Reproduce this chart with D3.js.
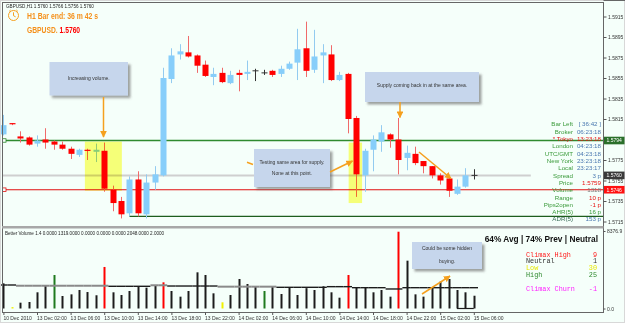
<!DOCTYPE html>
<html><head><meta charset="utf-8">
<script src="https://cdn.jsdelivr.net/npm/d3@7"></script>
<style>
html,body{margin:0;padding:0;background:#f5fffa;overflow:hidden}
svg{display:block}
text{font-family:"Liberation Sans",Arial,sans-serif}
</style></head><body>
<svg id="c" width="625" height="323"></svg>
<script>
// ---------------- DATA ----------------
const opens  = [1.5800,1.5811,1.5798,1.5797,1.5791,1.5795,1.5793,1.5790,1.5786,1.5780,1.5785,1.5783,1.5784,1.5746,1.5735,1.5723,1.5756,1.5722,1.5753,1.5760,1.5854,1.5878,1.5880,1.5877,1.5868,1.5856,1.5860,1.5850,1.5860,1.5859,1.5862,1.5860,1.5862,1.5859,1.5864,1.5870,1.5884,1.5863,1.5877,1.5878,1.5853,1.5859,1.5816,1.5760,1.5785,1.5793,1.5800,1.5795,1.5777,1.5781,1.5774,1.5769,1.5760,1.5757,1.5742,1.5749,1.5760];
const highs  = [1.5819,1.5811,1.5803,1.5798,1.5799,1.5806,1.5794,1.5793,1.5788,1.5786,1.5786,1.5791,1.5792,1.5750,1.5739,1.5759,1.5764,1.5761,1.5769,1.5865,1.5884,1.5888,1.5896,1.5878,1.5872,1.5865,1.5865,1.5862,1.5863,1.5872,1.5864,1.5863,1.5863,1.5867,1.5871,1.5903,1.5910,1.5902,1.5888,1.5887,1.5861,1.5860,1.5818,1.5786,1.5799,1.5809,1.5801,1.5816,1.5789,1.5788,1.5774,1.5769,1.5762,1.5759,1.5756,1.5767,1.5766];
const lows   = [1.5799,1.5809,1.5792,1.5789,1.5788,1.5786,1.5785,1.5785,1.5776,1.5778,1.5775,1.5773,1.5744,1.5725,1.5718,1.5720,1.5720,1.5718,1.5746,1.5759,1.5850,1.5873,1.5875,1.5860,1.5856,1.5848,1.5850,1.5849,1.5842,1.5853,1.5852,1.5858,1.5856,1.5856,1.5863,1.5853,1.5856,1.5860,1.5850,1.5852,1.5852,1.5801,1.5739,1.5744,1.5764,1.5783,1.5787,1.5761,1.5765,1.5770,1.5762,1.5757,1.5751,1.5739,1.5741,1.5748,1.5756];
const closes = [1.5809,1.5810,1.5796,1.5790,1.5794,1.5792,1.5790,1.5786,1.5781,1.5785,1.5784,1.5785,1.5747,1.5733,1.5722,1.5756,1.5723,1.5753,1.5761,1.5855,1.5877,1.5881,1.5876,1.5867,1.5857,1.5859,1.5851,1.5858,1.5858,1.5861,1.5862,1.5860,1.5858,1.5864,1.5869,1.5883,1.5862,1.5876,1.5880,1.5853,1.5858,1.5815,1.5761,1.5784,1.5795,1.5802,1.5795,1.5775,1.5782,1.5772,1.5769,1.5760,1.5755,1.5745,1.5749,1.5760,1.5760];

const volumes = [2720,150,630,700,1750,2540,3620,1350,1530,2000,1780,1430,4490,1750,1460,1890,2430,2250,2540,2830,1890,1280,1890,3910,3620,1640,670,1460,3190,2650,2360,1890,2360,1570,2290,1460,2200,2000,2400,1750,1170,3620,2250,2250,1750,2000,1280,8300,5170,1530,1280,2250,2900,3190,2000,1750,1380];
const volumeTypes = ["n","low","n","n","n","n","high","n","n","n","n","n","climax","n","n","n","n","n","n","climax","n","n","n","n","n","n","low","n","n","n","n","high","n","n","n","n","n","n","n","n","n","climax","n","n","n","n","n","climax","n","n","n","n","n","n","n","n","n"];
const volumeAvg = [2540,2540,2460,2460,2460,2460,2460,2460,2460,2460,2460,2460,2460,2400,2400,2400,2400,2400,2510,2510,2430,2430,2430,2430,2430,2430,2360,2360,2360,2360,2360,2360,2360,2290,2290,2290,2290,2290,2290,2360,2360,2360,2250,2250,2250,2250,2110,2110,2250,2250,2250,2250,2250,2250,2250,2250,2250];
const volumeAvgTrend = ["a","a","b","b","b","b","b","b","b","b","b","b","b","a","a","a","a","a","b","b","a","a","a","a","a","a","b","b","b","b","b","b","b","a","a","a","a","a","a","a","a","a","a","a","a","a","a","a","a","a","a","a","a","a","a","a","a"];

const timeTickIndex  = [0,4,8,12,16,20,24,28,32,36,40,44,48,52,56];
const timeTickLabels = ["10 Dec 2010","13 Dec 02:00","13 Dec 06:00","13 Dec 10:00","13 Dec 14:00","13 Dec 18:00","13 Dec 22:00","14 Dec 02:00","14 Dec 06:00","14 Dec 10:00","14 Dec 14:00","14 Dec 18:00","14 Dec 22:00","15 Dec 02:00","15 Dec 06:00"];
const priceTicks = [1.5915,1.5895,1.5875,1.5855,1.5835,1.5815,1.5775,1.5755,1.5735,1.5715];
const volumeTicks = [0, 8376.9];

const infoLabels = ["Bar Left","Broker","* Tokyo","London","UTC/GMT","New York","Local","Spread","Price","Volume","Range","Pips2open","AHR(5)","ADR(5)"];
const infoValues = ["[ 36:42 ]","06:23:18","13:23:18","04:23:18","04:23:18","23:23:18","23:23:17","3 p","1.5759","1318","10 p","-1 p","16 p","153 p"];

const legendLabels = ["Climax High","Neutral","Low","High","","Climax Churn"];
const legendValues = ["9","1","30","25","","-1"];

// ---------------- DRAW ----------------
const svg = d3.select("#c");
const W = 625, H = 323;
svg.append("rect").attr("width",W).attr("height",H).attr("fill","#f5fffa");

const defs = svg.append("defs");
const f = defs.append("filter").attr("id","sh").attr("x","-20%").attr("y","-20%").attr("width","140%").attr("height","150%");
f.append("feDropShadow").attr("dx",2.5).attr("dy",2.5).attr("stdDeviation",1.2).attr("flood-color","#555").attr("flood-opacity",0.55);
defs.append("marker").attr("id","ah").attr("viewBox","0 0 10 10").attr("refX",9).attr("refY",5)
  .attr("markerWidth",4.5).attr("markerHeight",4.5).attr("orient","auto")
  .append("path").attr("d","M0,0L10,5L0,10z").attr("fill","#f5a01e");

const n = opens.length;
const x = d3.scaleLinear().domain([0, n-1]).range([3.4, 473.8]);
const y = d3.scaleLinear().domain([1.5715, 1.5915]).range([221.5, 16.5]);
const yv = d3.scaleLinear().domain([0, 8376.9]).range([308.5, 231]);
const axisX = 603.5;

// level lines
const lv = svg.append("g");
lv.append("line").attr("x1",3).attr("y1",y(1.5760)).attr("y2",y(1.5760)).attr("stroke","#cfcfcf").attr("stroke-width",2)
  .attr("x2", x(n-1)+57);
lv.append("line").attr("x1",3).attr("x2",axisX).attr("y1",y(1.5794)).attr("y2",y(1.5794)).attr("stroke","#2f8a2f").attr("stroke-width",1.4);
lv.append("line").attr("x1",3).attr("x2",axisX).attr("y1",y(1.5746)).attr("y2",y(1.5746)).attr("stroke","#e01010").attr("stroke-width",1.2);
lv.append("line").attr("x1",x(15)).attr("x2",axisX).attr("y1",y(1.5720)).attr("y2",y(1.5720)).attr("stroke","#1d5e1d").attr("stroke-width",1.4);
lv.append("rect").attr("x",2.5).attr("y",y(1.5794)-1.8).attr("width",3.5).attr("height",3.5).attr("fill","#f5fffa").attr("stroke","#2f8a2f").attr("stroke-width",0.8);
lv.append("rect").attr("x",2.5).attr("y",y(1.5746)-1.8).attr("width",3.5).attr("height",3.5).attr("fill","#f5fffa").attr("stroke","#e01010").attr("stroke-width",0.8);

// candles
const cg = svg.append("g");
d3.range(n).forEach(i=>{
  const o=opens[i], c=closes[i], h=highs[i], l=lows[i];
  const cx = Math.round(x(i))+0.5;
  const up = c>o, dn = c<o;
  const wick = up ? "#93cbf0" : dn ? "#f06a6a" : "#333";
  cg.append("line").attr("x1",cx).attr("x2",cx).attr("y1",y(h)).attr("y2",y(l)).attr("stroke",wick).attr("stroke-width",1);
  if(up||dn){
    const t=y(Math.max(o,c)), b=y(Math.min(o,c));
    cg.append("rect").attr("x",cx-3).attr("y",t).attr("width",6).attr("height",Math.max(1.2,b-t))
      .attr("fill", up ? "#87cefa" : "#ff0000");
  } else {
    cg.append("line").attr("x1",cx-3).attr("x2",cx+3).attr("y1",y(o)).attr("y2",y(o)).attr("stroke","#333").attr("stroke-width",1);
  }
});

// yellow highlight rectangles (multiply blend)
[[9.7,14.1,1.5793,1.5745],[41.1,42.7,1.5792,1.5733]].forEach(r=>{
  svg.append("rect").attr("x",x(r[0])).attr("width",x(r[1])-x(r[0]))
    .attr("y",y(r[2])).attr("height",y(r[3])-y(r[2]))
    .attr("fill","#ffff7a").style("mix-blend-mode","multiply");
});

// volume bars
const vcol = {n:"#1c1c1c", climax:"#ff0000", high:"#1f7a1f", low:"#f0f000"};
const vg = svg.append("g");
d3.range(n).forEach(i=>{
  const cx = Math.round(x(i))+0.5;
  vg.append("line").attr("x1",cx).attr("x2",cx).attr("y1",yv(0)).attr("y2",yv(volumes[i]))
    .attr("stroke",vcol[volumeTypes[i]]).attr("stroke-width",2);
  vg.append("line").attr("x1",x(i)-4.2).attr("x2",x(i)+4.2).attr("y1",yv(volumeAvg[i])).attr("y2",yv(volumeAvg[i]))
    .attr("stroke", volumeAvgTrend[i]==="a" ? "#1c1c1c" : "#8a8a8a").attr("stroke-width", volumeAvgTrend[i]==="a"?1.4:2);
});
vg.append("line").attr("x1",x(54)).attr("x2",x(56)).attr("y1",yv(0)).attr("y2",yv(0)).attr("stroke","#1c1c1c").attr("stroke-width",1.2);

// frames
const fr = svg.append("g").attr("fill","none");
fr.append("rect").attr("x",0.5).attr("y",0.5).attr("width",W-1).attr("height",H-1).attr("stroke","#d8d8d8");
fr.append("line").attr("x1",2).attr("x2",axisX).attr("y1",2.5).attr("y2",2.5).attr("stroke","#666");
fr.append("line").attr("x1",axisX).attr("x2",W).attr("y1",0.5).attr("y2",0.5).attr("stroke","#666");
fr.append("line").attr("x1",2.5).attr("x2",2.5).attr("y1",2).attr("y2",313).attr("stroke","#666");
fr.append("line").attr("x1",axisX).attr("x2",axisX).attr("y1",2).attr("y2",313).attr("stroke","#666");
fr.append("line").attr("x1",2).attr("x2",axisX).attr("y1",312.5).attr("y2",312.5).attr("stroke","#666");
svg.append("rect").attr("x",2).attr("y",226).attr("width",axisX-2).attr("height",2.5).attr("fill","#a8a8a8");

// price axis
const pa = svg.append("g").attr("transform",`translate(${axisX},0)`)
  .call(d3.axisRight(y).tickValues(priceTicks).tickSize(3).tickPadding(1.5).tickFormat(d3.format(".4f")));
pa.select(".domain").remove();
pa.selectAll("line").attr("stroke","#555");
pa.selectAll("text").attr("font-size",5).attr("fill","#333").style("font-family","'Liberation Sans',Arial");

// price labels boxes
[[1.5794,"#2a6f2a"],[1.5760,"#3a3a3a"],[1.5746,"#ff1010"]].forEach(p=>{
  const yy = y(p[0]);
  svg.append("rect").attr("x",axisX+0.5).attr("y",yy-3.8).attr("width",20.5).attr("height",7.6).attr("fill",p[1]);
  svg.append("text").attr("x",axisX+3).attr("y",yy+1.8).attr("font-size",5).attr("fill","#fff").text(d3.format(".4f")(p[0]));
});

// volume axis
const va = svg.append("g").attr("transform",`translate(${axisX},0)`)
  .call(d3.axisRight(yv).tickValues(volumeTicks).tickSize(2).tickPadding(1.5).tickFormat(d3.format(".1f")));
va.select(".domain").remove();
va.selectAll("line").attr("stroke","#555");
va.selectAll("text").attr("font-size",5).attr("fill","#333").style("font-family","'Liberation Sans',Arial");

// time axis
const ta = svg.append("g").attr("transform","translate(0,312.5)")
  .call(d3.axisBottom(x).tickValues(timeTickIndex).tickSize(2.5).tickPadding(1)
    .tickFormat((d,i)=>timeTickLabels[i]));
ta.select(".domain").remove();
ta.selectAll("line").attr("stroke","#555");
ta.selectAll("text").attr("font-size",5).attr("fill","#333").attr("text-anchor","start").attr("dx",-0.5)
  .style("font-family","'Liberation Sans',Arial");

// header
svg.append("text").attr("x",6).attr("y",8).attr("font-size",4.6).attr("fill","#222")
  .text("GBPUSD,H1  1.5760 1.5766 1.5756 1.5760");
const clk = svg.append("g").attr("stroke","#f5a01e").attr("fill","none").attr("stroke-width",1);
clk.append("circle").attr("cx",13.5).attr("cy",15.5).attr("r",5);
clk.append("path").attr("d","M13.5,12.3V15.7L15.6,16.8");
clk.append("path").attr("d","M9.2,11.3L10.6,10M17.8,11.3L16.4,10");
svg.append("text").attr("x",27).attr("y",19).attr("font-size",9).attr("font-weight","bold").attr("fill","#f5901a")
  .attr("textLength",71).attr("lengthAdjust","spacingAndGlyphs").text("H1 Bar end: 36 m 42 s");
const sym = svg.append("text").attr("transform","translate(27,33) scale(0.71,1)")
  .attr("font-size",9.5).attr("font-weight","bold").attr("fill","#f5901a");
sym.append("tspan").text("GBPUSD. ");
sym.append("tspan").attr("fill","#ff0000").text("1.5760");

// info panel
const ip = svg.append("g").attr("font-size",6.2);
infoLabels.forEach((lab,i)=>{
  const yy = 126.2 + i*7.33;
  const isT = lab==="* Tokyo";
  const valRed = ["Price","Range","Pips2open"].includes(lab);
  ip.append("text").attr("x",573).attr("y",yy).attr("text-anchor","end")
    .attr("fill", isT ? "#e01010" : lab==="ADR(5)" ? "#3d6e5a" : "#3a9a3a").text(lab);
  ip.append("text").attr("x",601).attr("y",yy).attr("text-anchor","end")
    .attr("fill", isT||valRed ? "#e81010" : lab==="Volume" ? "#7a7a7a" : lab==="AHR(5)" ? "#3a9a3a" : "#4a78b0").text(infoValues[i]);
});

// annotation boxes
function note(x0,y0,w,h,lines,ys){
  svg.append("rect").attr("x",x0).attr("y",y0).attr("width",w).attr("height",h).attr("fill","#c6d6ec").attr("filter","url(#sh)");
  lines.forEach((t,k)=>svg.append("text").attr("x",x0+w/2).attr("y",ys[k]).attr("text-anchor","middle")
    .attr("font-size",5).attr("fill","#333").text(t));
}
note(49.5,62,78.5,33.5,["Increasing volume."],[80]);
note(254,149,76,38,["Testing same area for supply.","None at this point."],[163.8,175]);
note(365,72,114,30,["Supply coming back in at the same area."],[87]);
note(412,242,70,27,["Could be some hidden","buying."],[250,262.5]);

// arrows
const ar = svg.append("g").attr("stroke","#f5a01e").attr("stroke-width",1.5).attr("fill","none");
[[103.5,97,103.5,137],[330,172,352.5,161],[400,102,400,117.5],[419,152,451,178.5],[422,294,450,276]].forEach(a=>{
  ar.append("line").attr("x1",a[0]).attr("y1",a[1]).attr("x2",a[2]).attr("y2",a[3]).attr("marker-end","url(#ah)");
});
ar.append("line").attr("x1",247).attr("y1",162.3).attr("x2",253).attr("y2",164.5);

// volume pane texts
svg.append("text").attr("x",5).attr("y",234.5).attr("font-size",4.6).attr("fill","#222")
  .text("Better Volume 1.4 0.0000 1319.0000 0.0000 0.0000 0.0000 2048.0000 2.0000");
svg.append("text").attr("x",598).attr("y",242).attr("text-anchor","end").attr("font-size",8.3).attr("font-weight","bold")
  .attr("fill","#111").text("64% Avg | 74% Prev | Neutral");
const lgc = ["#ff1a1a","#333","#e8e800","#2f8a2f","","#ff22ff"];
const lg = svg.append("g").attr("font-size",6.8);
legendLabels.forEach((t,i)=>{
  if(!t) return;
  const yy = 256.5 + i*6.9;
  lg.append("text").attr("x",526).attr("y",yy).attr("fill",lgc[i]).style("font-family","'Liberation Mono',monospace").text(t);
  lg.append("text").attr("x",597).attr("y",yy).attr("text-anchor","end").attr("fill",lgc[i]).style("font-family","'Liberation Mono',monospace").text(legendValues[i]);
});
</script>
</body></html>
